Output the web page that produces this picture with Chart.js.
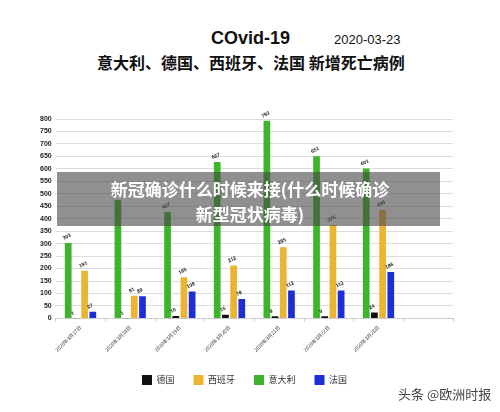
<!DOCTYPE html>
<html>
<head>
<meta charset="utf-8">
<script src="https://cdn.jsdelivr.net/npm/chart.js@4"></script>
<style>
  body { margin: 0; background: #fff; width: 500px; height: 412px; overflow: hidden; position: relative;
         font-family: "Noto Sans CJK SC", "Noto Sans", sans-serif; }
  #wrap { position: absolute; left: 0; top: 100px; width: 500px; height: 295px; }
  .t { position: absolute; color: #111; white-space: nowrap; }
  #band { position: absolute; left: 57px; top: 172px; width: 383px; height: 54px; background: rgba(70,70,70,0.6); }
  .bt { position: absolute; left: 0; width: 500px; text-align: center; color: #fff; font-weight: bold; font-size: 17px; }
</style>
</head>
<body>
<div class="t" style="left:211px;top:28px;font-family:Arial,'Liberation Sans';font-weight:bold;font-size:18px;">COvid-19</div>
<div class="t" style="left:334px;top:32px;font-family:Arial,'Liberation Sans';font-size:13px;">2020-03-23</div>
<div class="t" style="left:97px;top:50px;font-weight:bold;font-size:16px;">意大利、德国、西班牙、法国 新增死亡病例</div>
<div id="wrap"><canvas id="chart"></canvas></div>
<div id="band"></div>
<div class="bt" style="top:176px;">新冠确诊什么时候来接(什么时候确诊</div>
<div class="bt" style="top:201px;">新型冠状病毒)</div>
<div class="t" style="left:398px;top:384px;font-size:13px;color:#444;">头条 @欧洲时报</div>
<script>
// dates (last slot left empty like the original)
var dates = ["2020年3月17日", "2020年3月18日", "2020年3月19日", "2020年3月20日",
             "2020年3月21日", "2020年3月22日", "2020年3月23日", ""];
var italy   = [303, 475, 427, 627, 793, 651, 601];
var germany = [1, 1, 10, 15, 9, 9, 24];
var spain   = [191, 91, 165, 212, 285, 375, 435];
var france  = [27, 89, 108, 78, 112, 112, 186];
var legendOrder = ["德国", "西班牙", "意大利", "法国"];

// small tilted value labels over each bar
var valueLabels = {
    id: "valueLabels",
    afterDatasetsDraw: function(chart){
        var ctx = chart.ctx;
        ctx.save();
        ctx.font = "bold 5px 'Liberation Sans', Arial";
        ctx.fillStyle = "#222";
        ctx.textAlign = "left";
        ctx.textBaseline = "bottom";
        chart.data.datasets.forEach(function(ds, i){
            chart.getDatasetMeta(i).data.forEach(function(bar, j){
                if (ds.data[j] == null) return;
                ctx.save();
                ctx.translate(bar.x - 4, bar.y - 2);
                ctx.rotate(-0.45);
                ctx.fillText(ds.data[j], 0, 0);
                ctx.restore();
            });
        });
        ctx.restore();
    }
};

var chartdata = {
    labels: dates,
    datasets: [
        { label: "意大利", data: italy,   backgroundColor: "#3db52a" },
        { label: "德国",   data: germany, backgroundColor: "#111111" },
        { label: "西班牙", data: spain,   backgroundColor: "#ebb533" },
        { label: "法国",   data: france,  backgroundColor: "#1c2fd6" }
    ]
};

new Chart(document.getElementById("chart"), {
    type: "bar",
    data: chartdata,
    plugins: [valueLabels],
    options: {
        responsive: true,
        maintainAspectRatio: false,
        animation: false,
        layout: { padding: { left: 36, right: 47, top: 19, bottom: 0 } },
        datasets: { bar: { categoryPercentage: 0.66, barPercentage: 0.82 } },
        plugins: {
            tooltip: { enabled: false },
            legend: {
                position: "bottom",
                labels: {
                    boxWidth: 10, boxHeight: 10, padding: 19,
                    color: "#333",
                    font: { size: 9, family: "'Noto Sans CJK SC'" },
                    sort: function(a, b){ return legendOrder.indexOf(a.text) - legendOrder.indexOf(b.text); }
                }
            }
        },
        scales: {
            x: {
                grid: { display: true, drawOnChartArea: false, tickLength: 3, color: "#ccc" },
                border: { color: "#ccc" },
                ticks: { maxRotation: 45, minRotation: 45, color: "#333", font: { size: 5, family: "'Noto Sans CJK SC'" } }
            },
            y: {
                min: 0, max: 800,
                border: { display: false },
                grid: { color: "#dddddd", drawTicks: false },
                ticks: { stepSize: 50, padding: 4, color: "#222", font: { size: 7, weight: "bold", family: "'Liberation Sans', Arial" } }
            }
        }
    }
});
</script>
</body>
</html>
